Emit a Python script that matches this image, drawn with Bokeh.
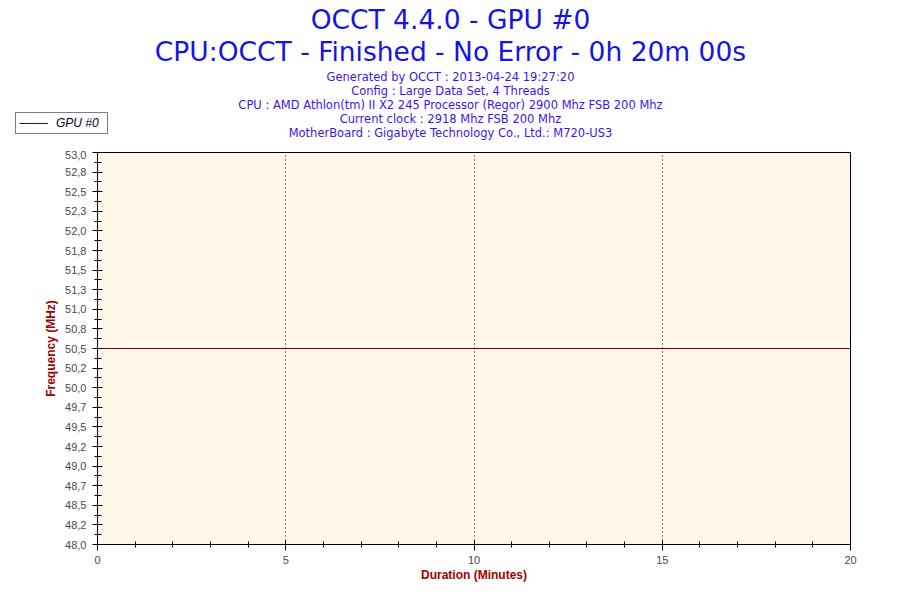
from bokeh.plotting import figure
from bokeh.layouts import column
from bokeh.models import FixedTicker, Label, Range1d, Legend, LegendItem, ColumnDataSource
from bokeh.embed import file_html
from bokeh.resources import INLINE

# ---- data ----
minutes = [0, 20]
gpu_freq = [50.5, 50.5]
series_name = "GPU #0"

y_tick_values = [48.0, 48.25, 48.5, 48.75, 49.0, 49.25, 49.5, 49.75, 50.0, 50.25,
                 50.5, 50.75, 51.0, 51.25, 51.5, 51.75, 52.0, 52.25, 52.5, 52.75, 53.0]
y_tick_labels = ["48,0", "48,2", "48,5", "48,7", "49,0", "49,2", "49,5", "49,7", "50,0", "50,2",
                 "50,5", "50,8", "51,0", "51,3", "51,5", "51,8", "52,0", "52,3", "52,5", "52,8", "53,0"]
y_minor = [48.125 + 0.25 * i for i in range(20)]
x_tick_values = [0, 5, 10, 15, 20]
x_minor = [i for i in range(21) if i % 5 != 0]

title_lines = ["OCCT 4.4.0 - GPU #0", "CPU:OCCT - Finished - No Error - 0h 20m 00s"]
sub_lines = [
    "Generated by OCCT : 2013-04-24 19:27:20",
    "Config : Large Data Set, 4 Threads",
    "CPU : AMD Athlon(tm) II X2 245 Processor (Regor) 2900 Mhz FSB 200 Mhz",
    "Current clock : 2918 Mhz FSB 200 Mhz",
    "MotherBoard : Gigabyte Technology Co., Ltd.: M720-US3",
]

src = ColumnDataSource(data=dict(minutes=minutes, freq=gpu_freq))

W = 884
HEAD_H = 150
MAIN_H = 434
LEFT, RIGHT = 97, 850          # plot frame edges (page pixels)
LINE_COLOR = "#7A0000"

# ---------------- header (titles + legend) ----------------
head = figure(width=W, height=HEAD_H, output_backend="svg", toolbar_location=None,
              x_range=Range1d(0, W), y_range=Range1d(HEAD_H, 0),
              x_axis_type=None, y_axis_type=None,
              min_border_left=0, min_border_right=0, min_border_top=0, min_border_bottom=0)
head.grid.grid_line_color = None
head.outline_line_color = None
head.background_fill_color = "white"
head.border_fill_color = "white"

cx = 450
T_FS, S_FS = 26.5, 11.5
for txt, base in zip(title_lines, [29, 61]):
    head.add_layout(Label(x=cx, y=base - 0.36 * T_FS, text=txt, text_align="center",
                          text_baseline="alphabetic", text_font="DejaVu Sans",
                          text_font_size=f"{T_FS}px", text_color="#1414E6"))
for txt, base in zip(sub_lines, [81, 95, 109, 123, 136.5]):
    head.add_layout(Label(x=cx, y=base - 0.36 * S_FS, text=txt, text_align="center",
                          text_baseline="alphabetic", text_font="DejaVu Sans",
                          text_font_size=f"{S_FS}px", text_color="#3F14E8"))

# legend entry: a hidden twin of the series line, so the legend can sit above the plot frame
legend_line = head.line(x="minutes", y="freq", source=src, line_color=LINE_COLOR, line_width=1,
                        visible=False)
lg = Legend(items=[LegendItem(label=series_name, renderers=[legend_line])])
lg.location = (15, 16)
lg.border_line_color = "black"
lg.border_line_width = 1
lg.background_fill_color = "white"
lg.background_fill_alpha = 1
lg.padding = 3
lg.margin = 0
lg.spacing = 0
lg.glyph_width = 29
lg.glyph_height = 12
lg.label_height = 12
lg.label_width = 48
lg.label_standoff = 8
lg.label_text_font = "Liberation Sans"
lg.label_text_font_style = "italic"
lg.label_text_font_size = "12px"
lg.label_text_color = "#000022"
lg.label_text_baseline = "middle"
head.add_layout(lg, "center")

# ---------------- main chart ----------------
p = figure(width=W, height=MAIN_H, output_backend="svg", toolbar_location=None,
           x_range=Range1d(0, 20), y_range=Range1d(48, 53),
           min_border_left=LEFT, min_border_right=W - RIGHT, min_border_top=2, min_border_bottom=38)
p.background_fill_color = "#FFF8EA"
p.border_fill_color = "white"
p.outline_line_color = "black"
p.outline_line_width = 1

# keep the header's frame independent of the chart's frame
for fig in (head, p):
    try:
        fig.frame_align = False
    except AttributeError:
        pass

p.line(x="minutes", y="freq", source=src, line_color=LINE_COLOR, line_width=1)

p.xaxis.ticker = FixedTicker(ticks=x_tick_values, minor_ticks=x_minor)
p.yaxis.ticker = FixedTicker(ticks=y_tick_values, minor_ticks=y_minor)
p.yaxis.major_label_overrides = {v: l for v, l in zip(y_tick_values, y_tick_labels)}
for ax in (p.xaxis, p.yaxis):
    ax.axis_line_color = "black"
    ax.major_tick_line_color = "black"
    ax.minor_tick_line_color = "black"
    ax.major_label_text_font = "Liberation Sans"
    ax.major_label_text_font_size = "11px"
    ax.major_label_text_color = "#4A4A4A"
    ax.axis_label_text_font = "Liberation Sans"
    ax.axis_label_text_font_style = "bold"
    ax.axis_label_text_font_size = "12px"
    ax.axis_label_text_color = "#A00000"
p.yaxis.major_tick_in = 5
p.yaxis.major_tick_out = 5
p.yaxis.minor_tick_in = 4
p.yaxis.minor_tick_out = 3
p.xaxis.major_tick_in = 4
p.xaxis.major_tick_out = 6
p.xaxis.minor_tick_in = 3
p.xaxis.minor_tick_out = 3
p.yaxis.major_label_standoff = 6
p.xaxis.major_label_standoff = 5
p.yaxis.axis_label = "Frequency (MHz)"
p.xaxis.axis_label = "Duration (Minutes)"
p.yaxis.axis_label_standoff = 4
p.xaxis.axis_label_standoff = 1

p.ygrid.grid_line_color = None
p.xgrid.grid_line_color = "black"
p.xgrid.grid_line_dash = "1 3"
p.xgrid.grid_line_width = 1

layout = column(head, p, spacing=0)
open("out.html", "w").write(file_html(layout, INLINE))
